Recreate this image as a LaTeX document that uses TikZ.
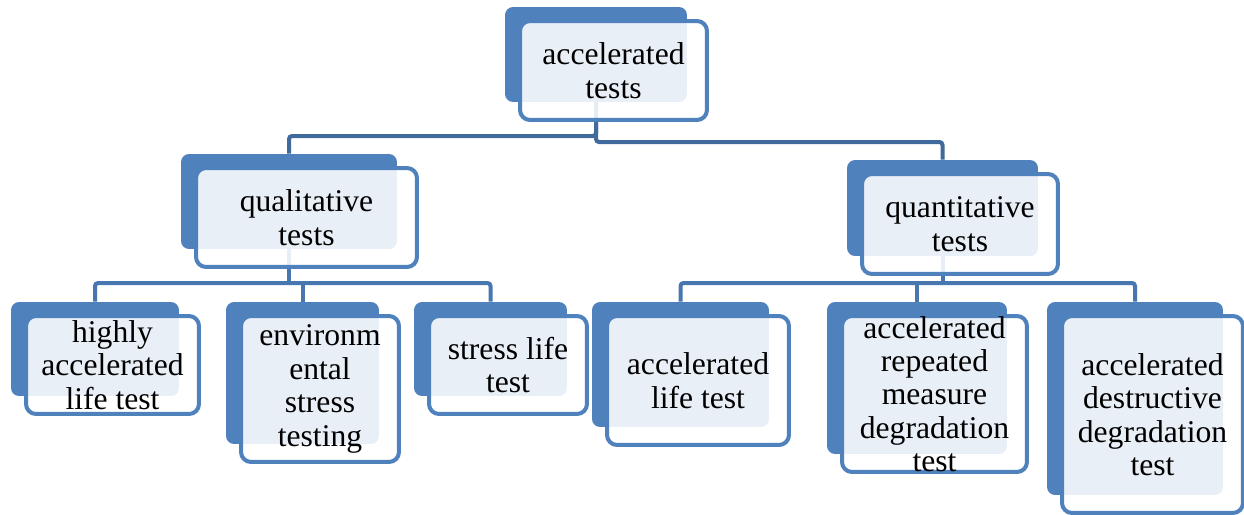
\documentclass[tikz,border=0pt]{standalone}
\usepackage{fontspec}
\setmainfont{Liberation Serif}

\definecolor{boxblue}{HTML}{4F81BD}
\definecolor{linedark}{HTML}{40699C}
\definecolor{linemid}{HTML}{4877B0}

\begin{document}
\begin{tikzpicture}[x=0.02cm, y=-0.02cm,
	backbox/.style={fill=boxblue, rounded corners=0.16cm, inner sep=0pt},
	frontbox/.style={draw=boxblue, line width=0.08cm, fill=white, fill opacity=0.88, rounded corners=0.2cm, inner sep=0pt},
	boxtext/.style={align=center, inner sep=0pt, font=\fontsize{18}{19}\selectfont},
	topline/.style={draw=linedark, line width=0.08cm, rounded corners=0.06cm},
	subline/.style={draw=linemid, line width=0.08cm, rounded corners=0.06cm}]

\useasboundingbox (0,0) rectangle (1244,514);

\node[backbox, minimum width=3.64cm, minimum height=1.90cm] (acc) at (596,54.5) {};
\node[backbox, minimum width=4.32cm, minimum height=1.90cm] (qual) at (289,201.5) {};
\node[backbox, minimum width=3.82cm, minimum height=1.92cm] (quan) at (942.5,208) {};

\node[backbox, minimum width=3.36cm, minimum height=1.88cm] (halt) at (95,349) {};
\node[backbox, minimum width=3.06cm, minimum height=2.84cm] (ess) at (302.5,373) {};
\node[backbox, minimum width=3.06cm, minimum height=1.88cm] (slt) at (490.5,349) {};
\node[backbox, minimum width=3.54cm, minimum height=2.50cm] (alt) at (680.5,364.5) {};
\node[backbox, minimum width=3.60cm, minimum height=3.04cm] (armd) at (917,378) {};
\node[backbox, minimum width=3.52cm, minimum height=3.86cm] (addt) at (1135,398.5) {};

\coordinate (lbar) at (0,136);
\coordinate (rbar) at (0,142);
\coordinate (qbar) at (0,283);

\draw[topline] (acc.south) |- (qual.north |- lbar) -- (qual.north);
\draw[topline] (acc.south) |- (quan.north |- rbar) -- (quan.north);

\draw[subline] (qual.south) -- (qual.south |- qbar);
\draw[subline] (halt.north) |- (qual.south |- qbar) -| (slt.north);
\draw[subline] (ess.north) -- (ess.north |- qbar);

\draw[subline] (quan.south) -- (quan.south |- qbar);
\draw[subline] (alt.north) |- (quan.south |- qbar) -| (addt.north);
\draw[subline] (armd.north) -- (armd.north |- qbar);

\node[frontbox, minimum width=3.74cm, minimum height=1.98cm] (acc-f) at ([shift={(17.5,16)}]acc.center) {};
\node[frontbox, minimum width=4.42cm, minimum height=1.98cm] (qual-f) at ([shift={(17.5,16)}]qual.center) {};
\node[frontbox, minimum width=3.92cm, minimum height=2.00cm] (quan-f) at ([shift={(17.5,16)}]quan.center) {};

\node[frontbox, minimum width=3.46cm, minimum height=1.96cm] (halt-f) at ([shift={(17.5,16)}]halt.center) {};
\node[frontbox, minimum width=3.16cm, minimum height=2.92cm] (ess-f) at ([shift={(17.5,16)}]ess.center) {};
\node[frontbox, minimum width=3.16cm, minimum height=1.96cm] (slt-f) at ([shift={(17.5,16)}]slt.center) {};
\node[frontbox, minimum width=3.64cm, minimum height=2.58cm] (alt-f) at ([shift={(17.5,16)}]alt.center) {};
\node[frontbox, minimum width=3.70cm, minimum height=3.12cm] (armd-f) at ([shift={(17.5,16)}]armd.center) {};
\node[frontbox, minimum width=3.62cm, minimum height=3.94cm] (addt-f) at ([shift={(17.5,16)}]addt.center) {};

\node[boxtext] (acc-t) at (acc-f) {accelerated\\tests};
\node[boxtext] (qual-t) at (qual-f) {qualitative\\tests};
\node[boxtext] (quan-t) at (quan-f) {quantitative\\tests};

\node[boxtext] (halt-t) at (halt-f) {highly\\accelerated\\life test};
\node[boxtext] (ess-t) at (ess-f) {environm\\ental\\stress\\testing};
\node[boxtext] (slt-t) at (slt-f) {stress life\\test};
\node[boxtext] (alt-t) at (alt-f) {accelerated\\life test};
\node[boxtext] (armd-t) at (armd-f) {accelerated\\repeated\\measure\\degradation\\test};
\node[boxtext] (addt-t) at (addt-f) {accelerated\\destructive\\degradation\\test};

\end{tikzpicture}
\end{document}
